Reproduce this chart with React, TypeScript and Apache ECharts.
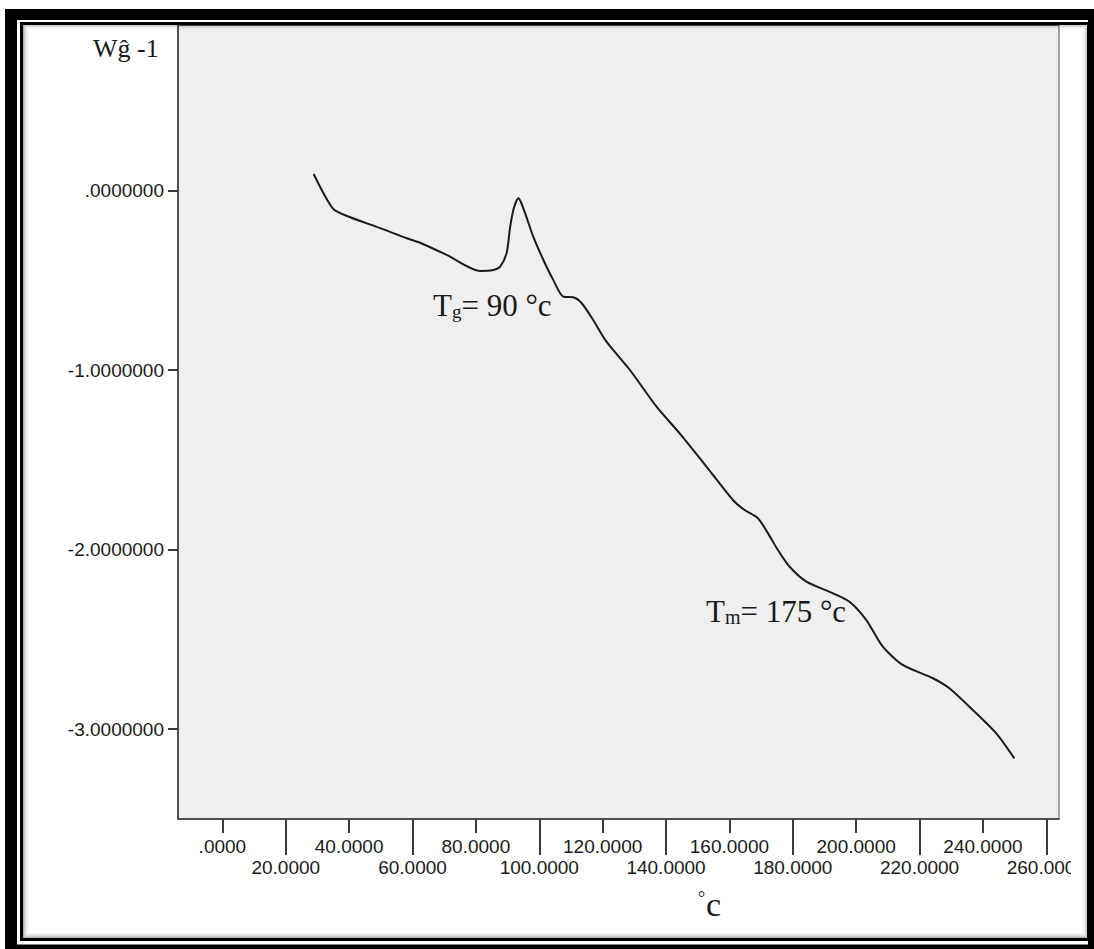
import React, { useEffect, useRef } from "react";
import * as echarts from "echarts";

// DSC trace: temperature (°C) vs heat flow (W g^-1)
const temperature = [
  28.8, 31.9, 35.1, 39.3, 49.8, 58.2, 62.4, 70.8, 81.3, 85.5, 87.6, 89.7, 90.8,
  92.0, 93.4, 94.2, 95.5, 98.1, 101.3, 104.4, 107.6, 110.7, 113.4, 117.0, 121.2,
  128.6, 137.0, 144.3, 152.8, 161.1, 164.8, 169.0, 172.2, 175.3, 179.0, 184.3,
  192.7, 197.9, 203.2, 208.4, 214.7, 224.2, 229.4, 236.8, 244.2, 249.9,
];
const heatFlow = [
  0.093, -0.014, -0.104, -0.141, -0.209, -0.265, -0.29, -0.358, -0.447, -0.442,
  -0.425, -0.347, -0.203, -0.096, -0.042, -0.063, -0.124, -0.256, -0.386,
  -0.497, -0.591, -0.594, -0.627, -0.72, -0.841, -0.999, -1.203, -1.352,
  -1.538, -1.723, -1.779, -1.825, -1.909, -2.002, -2.095, -2.178, -2.243,
  -2.29, -2.392, -2.54, -2.642, -2.716, -2.772, -2.893, -3.023, -3.162,
];

const xTicksUpper = [0, 40, 80, 120, 160, 200, 240];
const xTicksLower = [20, 60, 100, 140, 180, 220, 260];
const yTicks = [0, -1, -2, -3];

const X_MIN = -14;
const X_MAX = 264;
const Y_MIN = -3.5;
const Y_MAX = 0.92;

const SANS = "'Liberation Sans', Arial, sans-serif";
const SERIF = "'Liberation Serif', 'Times New Roman', serif";
const TEXT = "#1a1a1a";

const fmtX = (v: number) => (v === 0 ? ".0000" : v.toFixed(4));
const fmtY = (v: number) => (v === 0 ? ".0000000" : v.toFixed(7));

const W = 1094;
const H = 949;

export default function App() {
  const ref = useRef<HTMLDivElement>(null);

  useEffect(() => {
    if (!ref.current) return;
    const chart = echarts.init(ref.current, null, { renderer: "svg" });

    const seriesData = temperature.map((t, i) => [t, heatFlow[i]]);

    const tickLine = { color: "#3a3a3a", width: 2 };
    const labelBase = {
      color: TEXT,
      fontFamily: SANS,
      fontSize: 19,
      hideOverlap: false,
    };

    // inset shade along the inner frame
    const shade: any[] = [];
    const shadeAlpha = [0.3, 0.2, 0.13, 0.08, 0.045, 0.02];
    shadeAlpha.forEach((a, i) => {
      const o = 23 + i + 0.5;
      shade.push({
        type: "rect",
        z: 200,
        silent: true,
        shape: { x: o, y: o + 1, width: 1088 - o - (o - 23), height: 938 - o - 1 - (o - 23) },
        style: { fill: "none", stroke: `rgba(0,0,0,${a})`, lineWidth: 1 },
      });
    });

    chart.setOption({
      animation: false,
      backgroundColor: "#ffffff",
      grid: {
        left: 178,
        right: W - 1059,
        top: 25.5,
        bottom: H - 819,
        show: true,
        backgroundColor: "#efefef",
        borderColor: "#555",
        borderWidth: 1,
      },
      xAxis: [
        {
          type: "value",
          min: X_MIN,
          max: X_MAX,
          position: "bottom",
          axisLine: { show: true, onZero: false, lineStyle: { color: "#333", width: 1.5 } },
          axisTick: { show: true, customValues: xTicksUpper, length: 14, lineStyle: tickLine },
          axisLabel: { ...labelBase, customValues: xTicksUpper, margin: 18, formatter: fmtX },
          splitLine: { show: false },
        },
        {
          type: "value",
          min: X_MIN,
          max: X_MAX,
          position: "bottom",
          axisLine: { show: false, onZero: false },
          axisTick: { show: true, customValues: xTicksLower, length: 36, lineStyle: tickLine },
          axisLabel: { ...labelBase, customValues: xTicksLower, margin: 39, formatter: fmtX },
          splitLine: { show: false },
        },
      ],
      yAxis: {
        type: "value",
        min: Y_MIN,
        max: Y_MAX,
        axisLine: { show: true, onZero: false, lineStyle: { color: "#333", width: 1.5 } },
        axisTick: { show: true, customValues: yTicks, length: 10, lineStyle: tickLine },
        axisLabel: { ...labelBase, customValues: yTicks, margin: 14, formatter: fmtY },
        splitLine: { show: false },
      },
      series: [
        {
          type: "line",
          xAxisIndex: 0,
          data: seriesData,
          showSymbol: false,
          smooth: 0.25,
          lineStyle: { color: "#1a1a1a", width: 2 },
          silent: true,
        },
      ],
      graphic: [
        // y-axis unit
        {
          type: "text",
          z: 100,
          style: { x: 93, y: 35, text: "Wĝ -1", fill: TEXT, font: `26px ${SERIF}` },
        },
        // x-axis unit
        {
          type: "text",
          z: 100,
          style: { x: 698, y: 889, text: "°", fill: TEXT, font: `18px ${SERIF}` },
        },
        {
          type: "text",
          z: 100,
          style: { x: 706, y: 887, text: "c", fill: TEXT, font: `34px ${SERIF}` },
        },
        // glass transition label
        {
          type: "text",
          z: 100,
          style: {
            x: 433,
            y: 290,
            text: "{a|T}{b|g}{a|= 90 °c}",
            fill: TEXT,
            rich: {
              a: { fontSize: 31, fontFamily: SERIF, fill: TEXT },
              b: { fontSize: 19, fontFamily: SERIF, fill: TEXT, verticalAlign: "bottom" },
            },
          },
        },
        // melting label
        {
          type: "text",
          z: 100,
          style: {
            x: 706,
            y: 596,
            text: "{a|T}{b|m}{a|= 175 °c}",
            fill: TEXT,
            rich: {
              a: { fontSize: 31, fontFamily: SERIF, fill: TEXT },
              b: { fontSize: 20, fontFamily: SERIF, fill: TEXT, verticalAlign: "bottom" },
            },
          },
        },
        // right edge of the figure cuts the last tick label
        {
          type: "rect",
          z: 150,
          silent: true,
          shape: { x: 1071, y: 826, width: 16, height: 110 },
          style: { fill: "#ffffff" },
        },
        ...shade,
        // inner thin frame
        {
          type: "rect",
          z: 210,
          silent: true,
          shape: { x: 21.5, y: 23.5, width: 1067, height: 916 },
          style: { fill: "none", stroke: "#000", lineWidth: 3 },
        },
        // outer heavy frame
        { type: "rect", z: 220, silent: true, shape: { x: 5, y: 9, width: 12, height: 940 }, style: { fill: "#000" } },
        { type: "rect", z: 220, silent: true, shape: { x: 5, y: 9, width: 1089, height: 11 }, style: { fill: "#000" } },
        { type: "rect", z: 220, silent: true, shape: { x: 5, y: 944.5, width: 1089, height: 5 }, style: { fill: "#000" } },
        { type: "rect", z: 220, silent: true, shape: { x: 1088, y: 9, width: 6, height: 940 }, style: { fill: "#000" } },
      ],
    });

    return () => chart.dispose();
  }, []);

  return (
    <div
      ref={ref}
      style={{ position: "absolute", left: 0, top: 0, width: W, height: H, background: "#fff" }}
    />
  );
}
